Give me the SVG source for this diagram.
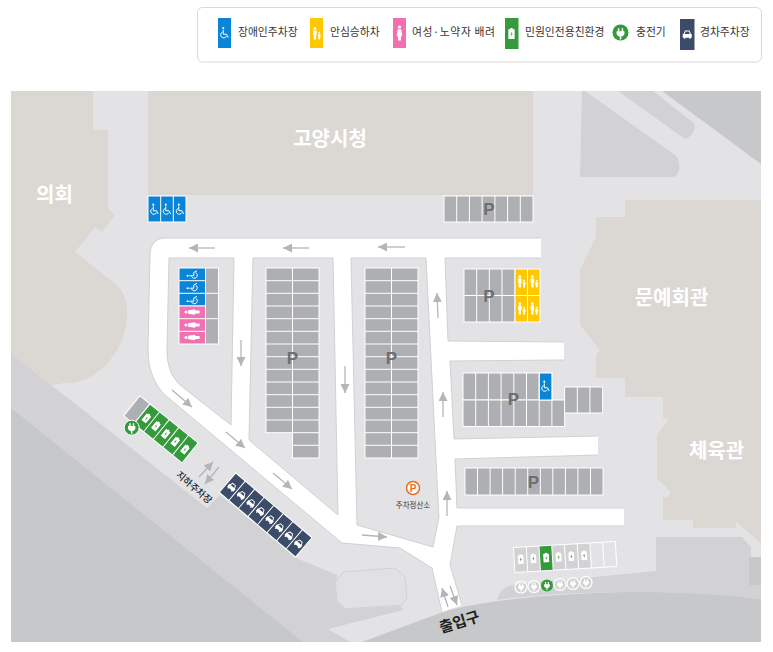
<svg xmlns="http://www.w3.org/2000/svg" width="773" height="652" viewBox="0 0 773 652">
<style>
text{font-family:"Noto Sans CJK KR","Noto Sans",sans-serif}
.lg{font-size:10.8px;fill:#3a3536}
.bld{font-size:20px;font-weight:700;fill:#fff;text-anchor:middle}
.p{font-family:"Liberation Sans",sans-serif;font-size:17px;font-weight:700;fill:#6d6e71;text-anchor:middle}
.slot{fill:#aeafb2;stroke:#fff;stroke-width:1}
.div{fill:none;stroke:#fff;stroke-width:1}
.blue{fill:#0a84d6}.pink{fill:#f26fb2}.yellow{fill:#ffc800}.green{fill:#359a3c}.navy{fill:#3c4b68}
.edge{fill:none;stroke:#d0d1d3;stroke-width:1}
.arrow{fill:none;stroke:#b4b5b8;stroke-width:1.3;marker-end:url(#head)}
.ring{fill:none;stroke:#fff;stroke-width:1.2}
</style>
<defs>
<marker id="head" markerUnits="userSpaceOnUse" markerWidth="10" markerHeight="9" refX="9" refY="4.500" orient="auto"><path d="M0 0L9 4.500L0 9Z" fill="#b4b5b8"/></marker>
<symbol id="wheel" viewBox="0 0 12 16"><circle cx="4.500" cy="2" r="1.300" fill="#fff"/><path d="M4.500 4V9.500H8.500L10.500 13.500M3.600 6.800A3.700 3.700 0 1 0 8.400 11.800" fill="none" stroke="#fff" stroke-width="1.200"/></symbol>
<symbol id="family" viewBox="0 0 12 16"><circle cx="4" cy="2" r="1.700" fill="#fff"/><path d="M1.800 4.200H6.200V9.500H5.400V15.500H2.600V9.500H1.800Z" fill="#fff"/><circle cx="9.300" cy="7" r="1.200" fill="#fff"/><path d="M7.600 8.800H11V12H10.400V15.500H8.200V12H7.600Z" fill="#fff"/></symbol>
<symbol id="woman" viewBox="0 0 12 20"><circle cx="6" cy="2.500" r="2" fill="#fff"/><path d="M3.800 5.200H8.200L9.500 14H7.800V19.500H4.200V14H2.500Z" fill="#fff"/></symbol>
<symbol id="batt" viewBox="0 0 10 14"><path d="M3.500 0H6.500V1.500H9V14H1V1.500H3.500Z" fill="#fff"/><path d="M5.600 4L3.600 8H5L4.400 11L6.600 7H5.100Z" fill="#359a3c"/></symbol>
<symbol id="car" viewBox="0 0 14 14"><path d="M4 2H10L12 6.500H13V11.500H11.500V13H9.500V11.500H4.500V13H2.500V11.500H1V6.500H2ZM4.800 3.400L3.600 6.500H10.400L9.200 3.400Z" fill="#fff" fill-rule="evenodd"/></symbol>
<symbol id="plug" viewBox="0 0 16 16"><path d="M5.200 3V6H3.800V8.500C3.800 10.300 5.500 11.500 7.200 11.700V15H8.800V11.700C10.500 11.500 12.200 10.300 12.200 8.500V6H10.800V3H9.200V6H6.800V3Z" fill="#fff"/></symbol>
</defs>
<rect width="773" height="652" fill="#fff"/>

<g id="legend">
<rect x="197.500" y="7.500" width="564" height="54.500" rx="5" fill="#fff" stroke="#d9d9db"/>
<g id="legend-disabled"><rect class="blue" x="218" y="18" width="13" height="30"/><use href="#wheel" x="219.500" y="26" width="10" height="14"/><text class="lg" x="238" y="36">장애인주차장</text></g>
<g id="legend-family"><rect class="yellow" x="310" y="18" width="13" height="30"/><use href="#family" x="311.500" y="27" width="10" height="13"/><text class="lg" x="330" y="36">안심승하차</text></g>
<g id="legend-women"><rect class="pink" x="393" y="18" width="13" height="30"/><use href="#woman" x="394.500" y="25" width="10" height="16"/><text class="lg" x="412" y="36" textLength="83">여성·노약자 배려</text></g>
<g id="legend-ev"><rect class="green" x="505" y="18" width="13.500" height="31"/><use href="#batt" x="507.500" y="28" width="8" height="11"/><text class="lg" x="525" y="36">민원인전용친환경</text></g>
<g id="legend-charger"><circle class="green" cx="620.500" cy="32.500" r="8"/><use href="#plug" x="613" y="25.500" width="15" height="15"/><text class="lg" x="636" y="36">충전기</text></g>
<g id="legend-compact"><rect class="navy" x="680" y="19" width="14.500" height="31"/><use href="#car" x="682" y="29" width="10.500" height="10.500"/><text class="lg" x="700" y="36">경차주차장</text></g>
</g>

<g id="ground">
<rect x="11" y="91" width="750" height="551" fill="#e3e3e5"/>
<path d="M11 353L207 508L220 495L296 558L337 575L336 600L345 609L400 606L403 610L328 629L350 642H11Z" fill="#d2d2d4"/>
<path d="M11 408L303 642H11Z" fill="#c7c8ca"/>
<path d="M497 600C499 592 505 586 512 585L656 571V537H742L751 547V557H761V599C720 594 680 592 640 592C590 592 540 594 497 600Z" fill="#d2d2d4"/>
<path d="M362 642L443 612C490 598 580 592 640 592C680 592 720 594 761 599V642Z" fill="#c7c8ca"/>
<path d="M749 557H761V585H749Z" fill="#c7c8ca"/>
<path d="M335 583L343 572L395 568L405 577L407 598L402 605L345 609L337 600Z" fill="#e1e1e3" stroke="#d0d1d3"/>
<path d="M580 177L582 91H585L675 155C681 160 681 177 672 177Z" fill="#d2d2d4"/>
<path d="M618 91H653L695 124C695 131 690 138 685 139Z" fill="#d2d2d4"/>
<path d="M662 91H761V164Z" fill="#c7c8ca"/>
</g>

<g id="road">
<path d="M165 238H541V258H445L448 341L564 342V360L450 361L454 439L598 436V455L455 459L457 508H624V526H457L450 565L462 605L442 612L432 568L400 548L342 543L165 395C155 385 148 370 148 350L150 254C150 245 156 238 165 238Z" fill="#fff"/>
<path class="edge" d="M541 238H165C156 238 150 245 150 254L148 350C148 370 155 385 165 395L342 543L400 548L432 568L442 612M462 605L450 565L457 526H624M624 508H457L455 459L598 455M598 436L454 439L450 361L564 360M564 342L448 341L445 258H541"/>
<path id="island-1" d="M169 258H234L231 425L180 385C172 377 167 367 167 350Z" fill="#e3e3e5" stroke="#d0d1d3"/>
<path id="island-2" d="M253 258H333L338 515L249 440Z" fill="#e3e3e5" stroke="#d0d1d3"/>
<path id="island-3" d="M351 258H426L436 460L439 517L433 547L357 525Z" fill="#e3e3e5" stroke="#d0d1d3"/>
</g>

<g id="buildings" fill="#dbd8d3">
<g id="bld-council"><path d="M11 91H93V130H108L108 208L115 215L102 232L95 227L75 252L117 285C125 293 128 305 127 318C124 355 95 383 67 383C60 383 56 385 52 385L11 353Z"/><text class="bld" x="54.500" y="202">의회</text></g>
<g id="bld-cityhall"><rect x="148" y="91" width="385" height="104"/><text class="bld" x="330" y="146">고양시청</text></g>
<g id="bld-culture"><path d="M625 200H761V543L736 522V528H693V520H663V497H668L671 492L657 478V435L669 419L663 418V397H625V378H596V355L600 350L592 340L580 325V270L596 237V217H625Z"/><text class="bld" x="671.500" y="305">문예회관</text><text class="bld" x="716.500" y="458">체육관</text></g>
</g>

<g id="lot-disabled-top"><rect class="blue" x="148" y="196" width="38" height="26" stroke="#fff"/><path class="div" d="M160.700 196V222M173.300 196V222"/><use href="#wheel" x="149.500" y="203" width="10" height="13"/><use href="#wheel" x="162" y="203" width="10" height="13"/><use href="#wheel" x="175" y="203" width="10" height="13"/></g>

<g id="lot-left">
<rect class="blue" x="179" y="268" width="26.500" height="38" stroke="#fff"/>
<rect class="pink" x="179" y="306" width="26.500" height="38" stroke="#fff"/>
<rect class="slot" x="205.500" y="268" width="13" height="76"/>
<path class="div" d="M179 280.700H205.500M179 293.300H205.500M179 318.700H205.500M179 331.300H205.500M205.500 293.300H218.500M205.500 318.700H218.500"/>
<use href="#wheel" transform="translate(186 279.500) rotate(-90)" width="10" height="13"/>
<use href="#wheel" transform="translate(186 292) rotate(-90)" width="10" height="13"/>
<use href="#wheel" transform="translate(186 305) rotate(-90)" width="10" height="13"/>
<use href="#woman" transform="translate(184 317) rotate(-90)" width="10" height="16"/>
<use href="#woman" transform="translate(184 330) rotate(-90)" width="10" height="16"/>
<use href="#woman" transform="translate(184 342.500) rotate(-90)" width="10" height="16"/>
</g>

<g id="lot-a">
<rect class="slot" x="266" y="268" width="26.500" height="164.700"/><rect class="slot" x="292.500" y="268" width="26.500" height="190"/>
<path class="div" d="M266 280.700H319M266 293.300H319M266 306H319M266 318.700H319M266 331.300H319M266 344H319M266 356.700H319M266 369.300H319M266 382H319M266 394.700H319M266 407.300H319M266 420H319M292.500 432.700H319M292.500 445.300H319"/>
<text class="p" x="292.500" y="364">P</text>
</g>
<g id="lot-b">
<rect class="slot" x="365" y="268" width="53" height="190"/>
<path class="div" d="M391.500 268V458M365 280.700H418M365 293.300H418M365 306H418M365 318.700H418M365 331.300H418M365 344H418M365 356.700H418M365 369.300H418M365 382H418M365 394.700H418M365 407.300H418M365 420H418M365 432.700H418M365 445.300H418"/>
<text class="p" x="391.500" y="364">P</text>
</g>
<g id="lot-c">
<rect class="slot" x="444" y="196" width="89" height="26"/>
<path class="div" d="M456.700 196V222M469.400 196V222M482.100 196V222M494.900 196V222M507.600 196V222M520.300 196V222"/>
<text class="p" x="489" y="215">P</text>
</g>
<g id="lot-d">
<rect class="slot" x="464" y="269" width="51" height="53"/><rect class="yellow" x="515" y="269" width="25" height="53" stroke="#fff"/>
<path class="div" d="M476.700 269V322M489.300 269V322M502 269V322M527.500 269V322M464 295.500H540"/>
<use href="#family" x="516.500" y="275" width="10" height="13"/><use href="#family" x="529" y="275" width="10" height="13"/><use href="#family" x="516.500" y="302" width="10" height="13"/><use href="#family" x="529" y="302" width="10" height="13"/>
<text class="p" x="489" y="302">P</text>
</g>
<g id="lot-e">
<rect class="slot" x="463" y="373" width="89" height="27"/><rect class="slot" x="463" y="400" width="101.600" height="26.500"/>
<rect class="blue" x="539.200" y="373" width="12.700" height="27" stroke="#fff"/>
<use href="#wheel" x="540.500" y="380" width="10" height="13"/>
<path class="div" d="M475.700 373V426.500M488.400 373V426.500M501.100 373V426.500M513.800 373V426.500M526.500 373V426.500M539.200 373V426.500M551.900 400V426.500"/>
<rect class="slot" x="564.600" y="387" width="38" height="26"/><path class="div" d="M577.300 387V413M589.900 387V413"/>
<text class="p" x="513.500" y="405">P</text>
</g>
<g id="lot-f">
<rect class="slot" x="465" y="468" width="138" height="27"/>
<path class="div" d="M477.500 468V495M490.100 468V495M502.600 468V495M515.200 468V495M527.700 468V495M540.300 468V495M552.800 468V495M565.400 468V495M577.900 468V495M590.500 468V495"/>
<text class="p" x="533.500" y="488">P</text>
</g>

<g id="lot-ev-diag" transform="translate(150 404) rotate(39)">
<rect class="slot" x="-13" y="0" width="13" height="25.600"/>
<rect class="green" x="0" y="0" width="62" height="25.600" stroke="#fff"/>
<path class="div" d="M12.400 0V25.600M24.800 0V25.600M37.200 0V25.600M49.600 0V25.600"/>
<use href="#batt" x="2.700" y="8" width="7" height="10"/><use href="#batt" x="15.100" y="8" width="7" height="10"/><use href="#batt" x="27.500" y="8" width="7" height="10"/><use href="#batt" x="39.900" y="8" width="7" height="10"/><use href="#batt" x="52.300" y="8" width="7" height="10"/>
</g>
<g id="charger-diag"><circle class="green" cx="131.700" cy="427.700" r="7.500" stroke="#fff"/><use href="#plug" transform="translate(124.700 420.700)" width="14" height="14"/></g>

<g id="lot-compact" transform="translate(235.700 473) rotate(40.300)">
<rect class="navy" x="0" y="0" width="100" height="25.400" stroke="#fff"/>
<path class="div" d="M12.500 0V25.400M25 0V25.400M37.500 0V25.400M50 0V25.400M62.500 0V25.400M75 0V25.400M87.500 0V25.400"/>
<use href="#car" x="1.500" y="8" width="9.500" height="9.500"/><use href="#car" x="14" y="8" width="9.500" height="9.500"/><use href="#car" x="26.500" y="8" width="9.500" height="9.500"/><use href="#car" x="39" y="8" width="9.500" height="9.500"/><use href="#car" x="51.500" y="8" width="9.500" height="9.500"/><use href="#car" x="64" y="8" width="9.500" height="9.500"/><use href="#car" x="76.500" y="8" width="9.500" height="9.500"/><use href="#car" x="89" y="8" width="9.500" height="9.500"/>
</g>

<g id="lot-ev-bottom" transform="translate(513.500 547.500) rotate(-3.400)">
<rect x="0" y="0" width="76.500" height="25" fill="#d2d2d4"/>
<rect class="green" x="25.500" y="0" width="12.800" height="25"/>
<rect x="0" y="0" width="102" height="25" fill="none" stroke="#fff"/>
<path class="div" d="M12.800 0V25M25.500 0V25M38.300 0V25M51 0V25M63.800 0V25M76.500 0V25M89.300 0V25"/>
<use href="#batt" x="3" y="7" width="7" height="10"/><use href="#batt" x="15.700" y="7" width="7" height="10"/><use href="#batt" x="28.500" y="7" width="7" height="10"/><use href="#batt" x="41" y="7" width="7" height="10"/><use href="#batt" x="53.700" y="7" width="7" height="10"/><use href="#batt" x="66.500" y="7" width="7" height="10"/>
</g>
<g id="chargers-bottom">
<circle class="ring" cx="521" cy="587" r="6"/><use href="#plug" x="515.500" y="581.500" width="11" height="11"/>
<circle class="ring" cx="534" cy="586.500" r="6"/><use href="#plug" x="528.500" y="581" width="11" height="11"/>
<circle class="green" cx="547" cy="585.500" r="6"/><use href="#plug" x="541.500" y="580" width="11" height="11"/>
<circle class="ring" cx="560" cy="584.500" r="6"/><use href="#plug" x="554.500" y="579" width="11" height="11"/>
<circle class="ring" cx="573" cy="583.500" r="6"/><use href="#plug" x="567.500" y="578" width="11" height="11"/>
<circle class="ring" cx="586" cy="582.500" r="6"/><use href="#plug" x="580.500" y="577" width="11" height="11"/>
</g>

<g id="pay-station">
<circle cx="413" cy="488" r="6.500" fill="#fff" stroke="#f26a21" stroke-width="1.500"/>
<text x="413" y="491.500" text-anchor="middle" font-size="10" font-weight="700" fill="#f26a21" style="font-family:'Liberation Sans',sans-serif">P</text>
<text x="413" y="508" text-anchor="middle" font-size="7.500" fill="#3a3536">주차정산소</text>
</g>
<text id="label-underground" transform="translate(192 490) rotate(41)" text-anchor="middle" font-size="9.500" font-weight="500" fill="#231f20">지하주차장</text>
<text id="label-entrance" transform="translate(461 627) rotate(-17)" text-anchor="middle" font-size="15" font-weight="700" fill="#231f20">출입구</text>

<g id="connectors">
<path class="arrow" d="M215 248H189"/><path class="arrow" d="M309 248H283"/><path class="arrow" d="M405 247H378"/>
<path class="arrow" d="M241 340V366"/><path class="arrow" d="M345 366V393"/>
<path class="arrow" d="M438 318L437 293"/><path class="arrow" d="M443 417V392"/><path class="arrow" d="M447 516V491"/>
<path class="arrow" d="M172 390L192 407"/><path class="arrow" d="M226 432L245 448"/><path class="arrow" d="M273 473L292 489"/>
<path class="arrow" d="M362 535L387 537"/>
<path class="arrow" d="M199 477L213 462"/><path class="arrow" d="M219 467L205 484"/>
<path class="arrow" d="M448 607L442 588"/><path class="arrow" d="M450 586L457 605"/>
</g>
</svg>
